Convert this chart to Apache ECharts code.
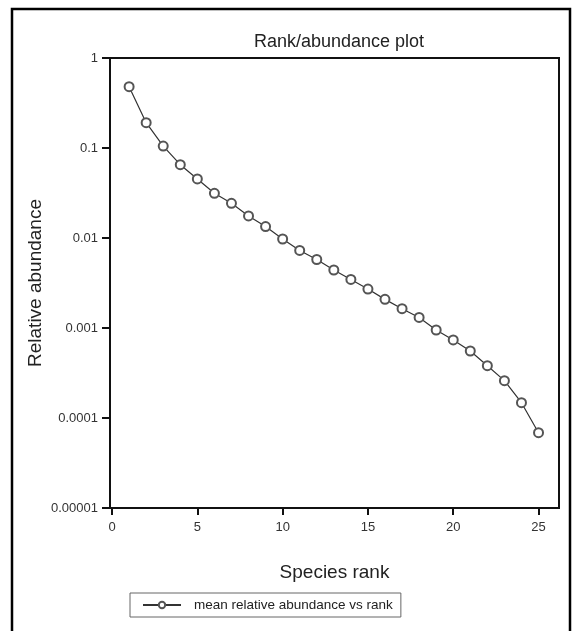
<!DOCTYPE html>
<html><head><meta charset="utf-8">
<script src="https://cdn.jsdelivr.net/npm/echarts@6/dist/echarts.min.js"></script>
<style>html,body{margin:0;padding:0;background:#fff}#c{width:577px;height:631px}</style>
</head><body><div id="c"></div>
<script>
const ranks = [1,2,3,4,5,6,7,8,9,10,11,12,13,14,15,16,17,18,19,20,21,22,23,24,25];
const abundance = [0.48,0.191,0.105,0.0652,0.0453,0.0314,0.0243,0.0176,0.0134,0.00975,0.00727,0.00577,0.00441,0.00346,0.00271,0.00208,0.00164,0.00131,0.00095,0.000736,0.000555,0.000381,0.00026,0.000148,0.0000687];
const xTicks = [0,5,10,15,20,25];
const yTickLabels = ['0.00001','0.0001','0.001','0.01','0.1','1'];
const seriesName = 'mean relative abundance vs rank';

const font = '"Liberation Sans", Arial, sans-serif';
const chart = echarts.init(document.getElementById('c'), null, {renderer:'canvas'});
chart.setOption({
  animation:false,
  textStyle:{fontFamily:font},
  title:{text:'Rank/abundance plot', left:334, top:28, textAlign:'center',
    textStyle:{fontFamily:font, fontSize:18, fontWeight:'normal', color:'#222'}},
  graphic:[{type:'rect', shape:{x:12, y:9, width:558, height:640},
    style:{fill:'none', stroke:'#000', lineWidth:2.5}, silent:true}],
  grid:{left:110, top:58, width:449, height:450, show:true, borderColor:'#111', borderWidth:2, backgroundColor:'transparent'},
  legend:{left:130, top:593, data:[seriesName], itemWidth:38, itemHeight:8,
    borderColor:'#666', borderWidth:1, borderRadius:0, padding:[5,8,5,12], itemGap:0,
    textStyle:{fontFamily:font, fontSize:13.5, color:'#222', padding:[0,0,0,8]}},
  xAxis:{type:'value', min:-0.12, max:26.2,
    name:'Species rank', nameLocation:'middle', nameGap:55, nameMoveOverlap:false,
    nameTextStyle:{fontFamily:font, fontSize:19, color:'#222'},
    axisLine:{show:true, onZero:false, lineStyle:{color:'#111', width:2}},
    axisTick:{show:true, length:7, lineStyle:{color:'#111', width:2}, customValues:xTicks},
    axisLabel:{fontFamily:font, fontSize:13, color:'#333', margin:13, customValues:xTicks},
    splitLine:{show:false}},
  yAxis:{type:'log', logBase:10, min:0.00001, max:1,
    name:'Relative abundance', nameLocation:'middle', nameGap:65, nameMoveOverlap:false,
    nameTextStyle:{fontFamily:font, fontSize:19, color:'#222'},
    axisLine:{show:true, onZero:false, lineStyle:{color:'#111', width:2}},
    axisTick:{show:true, length:8, lineStyle:{color:'#111', width:2}},
    axisLabel:{fontFamily:font, fontSize:13, color:'#333', margin:12,
      formatter:function(v){
        const e = Math.round(Math.log10(v));
        return yTickLabels[e + 5] || '';
      }},
    splitLine:{show:false}},
  series:[{name:seriesName, type:'line', data:ranks.map((r,i)=>[r, abundance[i]]),
    symbol:'emptyCircle', symbolSize:9, showAllSymbol:true,
    lineStyle:{color:'#333', width:1.2},
    itemStyle:{color:'#555', borderWidth:1.3}}]
});
</script></body></html>
